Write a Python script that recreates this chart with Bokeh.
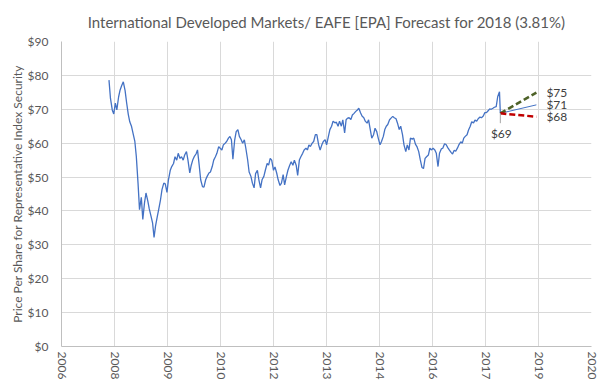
import pandas as pd
from bokeh.plotting import figure
from bokeh.models import Range1d, FixedTicker, NumeralTickFormatter
from bokeh.embed import file_html
from bokeh.resources import INLINE
from bokeh.core.properties import value

# ---------------- data ----------------
EXCEL_EPOCH = pd.Timestamp("1899-12-30")

history_first_date = "2008-01-01"          # semi-monthly samples (1st / 15th)
history_values = [
    78.6, 73.2, 69.8, 68.6, 71.8, 69.8, 73.7, 75.7, 77.1, 78.1,
    75.5, 72.0, 68.5, 66.3, 64.9, 62.9, 60.5, 56.0, 48.2, 40.4,
    44.0, 37.5, 42.4, 45.3, 43.0, 40.6, 38.4, 36.5, 32.2, 35.5,
    38.4, 40.6, 43.3, 46.3, 48.2, 48.0, 45.5, 49.2, 52.0, 53.1,
    54.0, 56.0, 55.0, 57.0, 55.5, 56.0, 55.0, 56.5, 57.5, 55.0,
    51.2, 53.5, 55.0, 56.0, 56.8, 58.0, 53.5, 49.2, 47.2, 47.0,
    49.2, 50.2, 51.2, 51.5, 53.1, 55.0, 56.0, 57.0, 59.0, 58.5,
    58.0, 59.5, 60.0, 60.5, 61.5, 62.0, 61.0, 55.3, 61.0, 63.4,
    64.0, 62.0, 61.0, 60.0, 61.0, 58.5, 55.1, 51.5, 50.2, 48.2,
    46.8, 51.0, 52.0, 49.2, 46.8, 49.2, 50.2, 52.0, 54.0, 53.5,
    55.5, 55.0, 52.0, 53.0, 51.2, 49.2, 47.5, 48.2, 50.7, 47.7,
    50.2, 52.0, 53.5, 54.5, 53.5, 55.0, 53.5, 50.5, 55.0, 56.0,
    57.0, 58.0, 58.5, 58.0, 59.5, 59.0, 60.0, 60.5, 62.5, 62.5,
    59.5, 58.0, 59.5, 60.5, 61.0, 59.5, 62.0, 64.0, 65.0, 66.5,
    66.0, 66.2, 65.0, 66.5, 65.0, 66.9, 63.0, 66.9, 67.4, 67.5,
    67.0, 68.3, 68.8, 69.3, 69.8, 70.3, 69.0, 68.0, 67.5, 66.5,
    65.9, 66.9, 64.0, 61.5, 62.5, 64.4, 63.4, 61.5, 59.5, 60.5,
    62.0, 64.0, 65.0, 65.5, 66.9, 67.4, 67.9, 67.5, 67.2, 65.9,
    64.0, 65.0, 62.5, 59.5, 57.5, 59.5, 58.0, 61.5, 61.2, 61.5,
    59.7, 59.0, 57.5, 55.2, 52.8, 52.5, 55.5, 56.0, 56.5, 58.5,
    58.0, 58.5, 58.0, 57.0, 53.1, 57.0, 58.3, 58.5, 59.8, 59.6,
    58.7, 58.0, 57.3, 56.8, 57.9, 57.6, 58.6, 59.6, 60.4, 60.0,
    61.5, 62.0, 62.5, 63.9, 65.0, 66.3, 66.0, 66.8, 66.5, 67.2,
    67.7, 67.5, 68.0, 69.0, 69.0, 69.5, 70.1, 70.0, 70.3, 70.6,
    70.8, 73.7, 75.2,
]
history_last_date = "2018-02-09"
history_last_value = 68.8

forecast_dates = ["2018-02-09", "2019-01-15"]
forecast_start = 68.8
forecast_high = 74.9
forecast_mid = 71.3
forecast_low = 67.8
forecast_end_labels = ["$75", "$71", "$68"]
forecast_start_label = "$69"

x_tick_serials = [39000, 39500, 40000, 40500, 41000, 41500, 42000, 42500, 43000, 43500, 44000]
x_tick_labels = ["2006", "2008", "2009", "2010", "2012", "2013", "2014", "2016", "2017", "2019", "2020"]
y_ticks = [0, 10, 20, 30, 40, 50, 60, 70, 80, 90]

title_text = "International Developed Markets/ EAFE [EPA] Forecast for 2018 (3.81%)"
y_axis_title = "Price Per Share for Representative Index Security"

# ---------------- layout & styles ----------------
W, H = 603, 382
B_LEFT, B_RIGHT, B_TOP, B_BOTTOM = 61, 12, 41, 35
FONT = "Lato"
GREY_TEXT = "#595959"
GRID = "#D9D9D9"
BLUE = "#4472C4"
GREEN = "#4E6228"
RED = "#C00000"
LEADER_DROP = 2.9


def to_serial(dates):
    return [float((pd.Timestamp(d) - EXCEL_EPOCH).days) for d in dates]


hist_dates = list(pd.date_range(history_first_date, periods=len(history_values), freq="SMS"))
hist_dates.append(pd.Timestamp(history_last_date))
hist_x = to_serial(hist_dates)
hist_y = history_values + [history_last_value]

fx = to_serial(forecast_dates)

p = figure(
    width=W, height=H,
    output_backend="svg", toolbar_location=None,
    x_range=Range1d(x_tick_serials[0], x_tick_serials[-1]),
    y_range=Range1d(y_ticks[0], y_ticks[-1]),
    min_border_left=B_LEFT, min_border_right=B_RIGHT,
    min_border_top=B_TOP, min_border_bottom=B_BOTTOM,
)
p.outline_line_color = None
p.background_fill_color = "white"
p.border_fill_color = "white"

p.title.text = title_text
p.title.align = "center"
p.title.offset = -34
p.title.text_font = FONT
p.title.text_font_size = "15px"
p.title.text_font_style = "normal"
p.title.text_color = GREY_TEXT
p.title.standoff = 21

# x axis
p.xaxis.ticker = FixedTicker(ticks=x_tick_serials)
p.xaxis.major_label_overrides = {t: lab for t, lab in zip(x_tick_serials, x_tick_labels)}
p.xaxis.major_label_orientation = "vertical"
p.xaxis.major_label_standoff = 5
p.xaxis.major_label_text_font = FONT
p.xaxis.major_label_text_font_size = "12px"
p.xaxis.major_label_text_color = GREY_TEXT

# y axis
p.yaxis.ticker = FixedTicker(ticks=y_ticks)
p.yaxis.formatter = NumeralTickFormatter(format="$0")
p.yaxis.major_label_standoff = 13
p.yaxis.major_label_text_font = FONT
p.yaxis.major_label_text_font_size = "12px"
p.yaxis.major_label_text_color = GREY_TEXT
p.yaxis.axis_label = y_axis_title
p.yaxis.axis_label_text_font = FONT
p.yaxis.axis_label_text_font_size = "12px"
p.yaxis.axis_label_text_font_style = "normal"
p.yaxis.axis_label_text_color = GREY_TEXT
p.yaxis.axis_label_standoff = 0

for ax in (p.xaxis, p.yaxis):
    ax.axis_line_color = "#BFBFBF"
    ax.major_tick_line_color = None
    ax.minor_tick_line_color = None
    ax.major_tick_out = 0
    ax.major_tick_in = 0
    ax.minor_tick_out = 0
    ax.minor_tick_in = 0

p.xgrid.grid_line_color = GRID
p.ygrid.grid_line_color = GRID

# historical series
p.line(hist_x, hist_y, line_color=BLUE, line_width=1.3)

# forecasts
p.line(fx, [forecast_start, forecast_mid], line_color=BLUE, line_width=1)
p.line(fx, [forecast_start, forecast_high], line_color=GREEN, line_width=2.5, line_dash="6 3")
p.line(fx, [forecast_start, forecast_low], line_color=RED, line_width=2.5, line_dash="6 3")

p.text(x=[fx[1]] * 3, y=[forecast_high, forecast_mid, forecast_low], text=forecast_end_labels,
       x_offset=10, text_baseline="middle", text_align="left",
       text_font=value(FONT), text_font_size="12px", text_color="#404040")

# start label with leader
p.segment(x0=[fx[0]], y0=[forecast_start], x1=[fx[0]], y1=[forecast_start - LEADER_DROP],
          line_color="#A6A6A6", line_width=1)
p.text(x=[fx[0]], y=[forecast_start], text=[forecast_start_label],
       y_offset=20, x_offset=1, text_baseline="middle", text_align="center",
       text_font=value(FONT), text_font_size="12px", text_color="#404040")

open("out.html", "w").write(file_html(p, INLINE))
